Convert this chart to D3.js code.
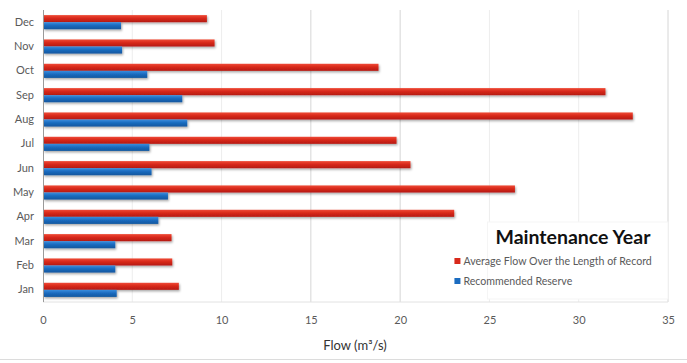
<!DOCTYPE html>
<html>
<head>
<meta charset="utf-8">
<script src="https://cdn.jsdelivr.net/npm/d3@7"></script>
<style>
  body { margin: 0; background: #fff; }
  svg { display: block; font-family: Lato, "Open Sans", sans-serif; }
</style>
</head>
<body>
<div id="chart"></div>
<script>
// data
const months = ["Jan", "Feb", "Mar", "Apr", "May", "Jun", "Jul", "Aug", "Sep", "Oct", "Nov", "Dec"];
const averageFlow = [7.58, 7.21, 7.17, 23.0, 26.4, 20.55, 19.77, 33.0, 31.47, 18.76, 9.58, 9.15];
const reserve = [4.1, 4.02, 4.02, 6.43, 6.97, 6.05, 5.93, 8.05, 7.77, 5.81, 4.4, 4.34];
const seriesNames = ["Average Flow Over the Length of Record", "Recommended Reserve"];
const xTicks = [0, 5, 10, 15, 20, 25, 30, 35];

const W = 687, H = 363;
const margin = {top: 10, right: 19, bottom: 61, left: 43},
    width = W - margin.left - margin.right,
    height = H - margin.top - margin.bottom;

const svg = d3.select("#chart")
  .append("svg")
    .attr("width", W)
    .attr("height", H);

// gradients + shadow for the bevelled bars
const defs = svg.append("defs");
const grads = [
  {id: "gRed", stops: ["#ef4a36", "#d8291b", "#b51a10"]},
  {id: "gBlue", stops: ["#3a8ede", "#1b6cc0", "#11569e"]}
];
grads.forEach(g => {
  const lg = defs.append("linearGradient").attr("id", g.id)
    .attr("x1", 0).attr("y1", 0).attr("x2", 0).attr("y2", 1);
  lg.append("stop").attr("offset", "0%").attr("stop-color", g.stops[0]);
  lg.append("stop").attr("offset", "45%").attr("stop-color", g.stops[1]);
  lg.append("stop").attr("offset", "100%").attr("stop-color", g.stops[2]);
});
defs.append("filter").attr("id", "shadow")
    .attr("x", "-5%").attr("y", "-40%").attr("width", "115%").attr("height", "200%")
  .append("feDropShadow")
    .attr("dx", 1).attr("dy", 1.5).attr("stdDeviation", 0.8)
    .attr("flood-color", "#000").attr("flood-opacity", 0.35);

const g = svg.append("g")
    .attr("transform", "translate(" + margin.left + "," + margin.top + ")");

// scales
const x = d3.scaleLinear().domain([0, 35]).range([0, width]);
const y0 = d3.scaleBand()
    .domain(months.slice().reverse())
    .range([0, height])
    .paddingInner(0.42)
    .paddingOuter(0.21);
const y1 = d3.scaleBand()
    .domain(seriesNames)
    .range([0, y0.bandwidth()]);
const fills = ["url(#gRed)", "url(#gBlue)"];

// gridlines
g.append("g")
  .selectAll("line")
  .data(xTicks.filter(d => d > 0))
  .enter()
  .append("line")
    .attr("x1", d => x(d)).attr("x2", d => x(d))
    .attr("y1", 0).attr("y2", height)
    .attr("stroke", d => (d === 15 || d === 20 || d === 35) ? "#d6d6d6" : "#ededed")
    .attr("stroke-width", 1);

// bottom border of plot
g.append("line")
    .attr("x1", 0).attr("x2", width)
    .attr("y1", height).attr("y2", height)
    .attr("stroke", "#e2e2e2");

// legend background covers the gridlines
const legend = g.append("g")
    .attr("transform", "translate(" + (x(25) - 2) + ",212)");
legend.append("rect")
    .attr("x", 0).attr("y", 0)
    .attr("width", width - x(25) + 2).attr("height", 77)
    .attr("fill", "#fff")
    .attr("stroke", "#f5f5f5");

// bars
const rows = months.map((m, i) => ({month: m, vals: [averageFlow[i], reserve[i]]}));
const monthG = g.selectAll(".month")
  .data(rows)
  .enter()
  .append("g")
    .attr("transform", d => "translate(0," + y0(d.month) + ")");

monthG.selectAll("rect")
  .data(d => d.vals.map((v, i) => ({series: seriesNames[i], v: v, i: i})))
  .enter()
  .append("rect")
    .attr("x", x(0) + 0.5)
    .attr("y", d => y1(d.series))
    .attr("width", d => x(d.v) - x(0))
    .attr("height", y1.bandwidth())
    .attr("fill", d => fills[d.i])
    .attr("filter", "url(#shadow)");

// left axis line
g.append("line")
    .attr("x1", 0.5).attr("x2", 0.5)
    .attr("y1", 0).attr("y2", height)
    .attr("stroke", "#9a9a9a");

// month labels
const yAxis = g.append("g")
    .call(d3.axisLeft(y0).tickSize(0).tickPadding(9));
yAxis.select(".domain").remove();
yAxis.selectAll("text")
    .attr("font-size", 11)
    .attr("font-family", "Lato, 'Open Sans', sans-serif")
    .attr("fill", "#5a5a5a");

// x tick labels
const xAxis = g.append("g")
    .attr("transform", "translate(0," + height + ")")
    .call(d3.axisBottom(x).tickValues(xTicks).tickSize(0).tickPadding(14));
xAxis.select(".domain").remove();
xAxis.selectAll("text")
    .attr("font-size", 11)
    .attr("font-family", "Lato, 'Open Sans', sans-serif")
    .attr("fill", "#5a5a5a");

// axis title
svg.append("text")
    .attr("x", 355).attr("y", 350)
    .attr("text-anchor", "middle")
    .attr("font-size", 13)
    .attr("fill", "#333")
    .text("Flow (m³/s)");

// legend contents
legend.append("text")
    .attr("x", 163).attr("y", 22)
    .attr("text-anchor", "end")
    .attr("font-size", 19.5)
    .attr("font-weight", "bold")
    .attr("fill", "#111")
    .text("Maintenance Year");

const legendColors = ["#d8291b", "#1b6cc0"];
seriesNames.forEach((s, i) => {
  const row = legend.append("g")
      .attr("transform", "translate(-33," + (40 + i * 20) + ")");
  row.append("rect")
      .attr("x", 0).attr("y", -4)
      .attr("width", 6).attr("height", 6)
      .attr("fill", legendColors[i]);
  row.append("text")
      .attr("x", 9).attr("y", 2.5)
      .attr("font-size", 10.6)
      .attr("fill", "#5a5a5a")
      .text(s);
});

// outer frame bottom line
svg.append("line")
    .attr("x1", 0).attr("x2", W)
    .attr("y1", 359.5).attr("y2", 359.5)
    .attr("stroke", "#dcdcdc");
</script>
</body>
</html>
